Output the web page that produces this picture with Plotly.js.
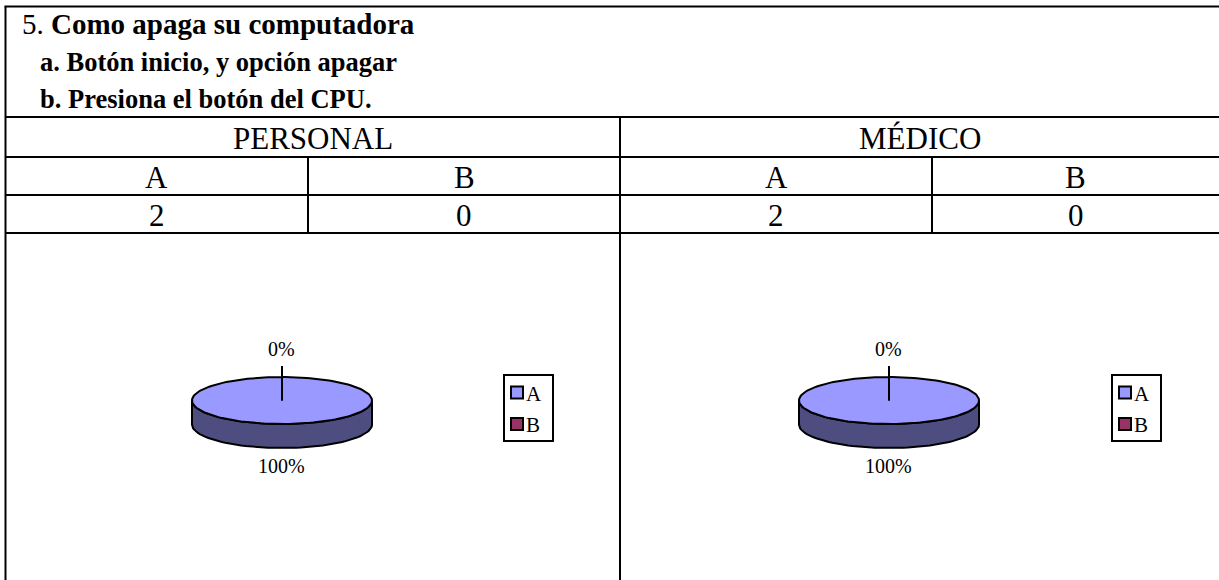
<!DOCTYPE html>
<html>
<head>
<meta charset="utf-8">
<script src="https://cdn.plot.ly/plotly-3.0.1.min.js"></script>
<style>
  body { margin: 0; background: #fff; }
  #plot { width: 1219px; height: 580px; }
</style>
</head>
<body>
<div id="plot"></div>
<script>
// question text
let questionNum = '5.';
let questionText = 'Como apaga su computadora';
let answerLines = ['a. Botón inicio, y opción apagar', 'b. Presiona el botón del CPU.'];

// groups and answers
let groups = ['PERSONAL', 'MÉDICO'];
let options = ['A', 'B'];
let personalCounts = [2, 0];
let medicoCounts = [2, 0];
let optionColors = ['#9999FF', '#993366'];
let sideColors = ['#4D4D80', '#4D1A33'];

let serif = 'Liberation Serif';

// table grid (pixel space)
let W = 1219, H = 580;
let gridLeft = 5.5, gridTop = 6.5, midX = 620;
let rowY = [117, 157, 195, 233];
let splitX = [308, 932];

let shapes = [];
function line(x0, y0, x1, y1) {
    shapes.push({type: 'line', xref: 'x', yref: 'y', x0: x0, y0: y0, x1: x1, y1: y1,
        line: {color: '#000', width: 2}});
}
line(gridLeft - 1, gridTop, W, gridTop);
line(gridLeft, gridTop, gridLeft, H);
for (let i = 0; i < rowY.length; i++) {
    line(gridLeft, rowY[i], W, rowY[i]);
}
line(midX, rowY[0], midX, H);
line(splitX[0], rowY[1], splitX[0], rowY[3]);
line(splitX[1], rowY[1], splitX[1], rowY[3]);

let annotations = [];
function txt(text, x, y, size, anchor, weight) {
    annotations.push({text: text, x: x, y: y, xref: 'x', yref: 'y', showarrow: false,
        xanchor: anchor || 'center', yanchor: 'middle',
        font: {family: serif, size: size, color: '#000', weight: weight || 'normal'}});
}

// title block
txt(questionNum + ' <b>' + questionText + '</b>', 20, 24, 29, 'left');
txt(answerLines[0], 38, 62, 26.5, 'left', 'bold');
txt(answerLines[1], 38, 99, 26.5, 'left', 'bold');

// header cells
let groupCells = [[gridLeft, midX], [midX, W]];
let allCounts = [personalCounts, medicoCounts];
for (let g = 0; g < groups.length; g++) {
    let gx0 = groupCells[g][0], gx1 = groupCells[g][1];
    txt(groups[g], (gx0 + gx1) / 2, (rowY[0] + rowY[1]) / 2 + 1, 31);
    let edges = [gx0, splitX[g], gx1];
    for (let k = 0; k < options.length; k++) {
        let cx = (edges[k] + edges[k + 1]) / 2;
        txt(options[k], cx, (rowY[1] + rowY[2]) / 2 + 1, 31);
        txt(String(allCounts[g][k]), cx, (rowY[2] + rowY[3]) / 2 + 1, 31);
    }
}

// 3D-looking pies built from the counts
let traces = [];
let pieCenters = [282, 889];
let pieCY = 400.5, rx = 90, ry = 23.5, depth = 24;

function rim(cx, th, dy) {
    return [cx + rx * Math.sin(th), pieCY - ry * Math.cos(th) + (dy || 0)];
}

function drawPie(cx, counts) {
    let total = counts.reduce((a, b) => a + b, 0);
    let start = 0;
    let slices = [];
    for (let k = 0; k < counts.length; k++) {
        let frac = counts[k] / total;
        slices.push({k: k, a0: start, a1: start + frac * 2 * Math.PI, frac: frac});
        start += frac * 2 * Math.PI;
    }
    // side walls first (front half only)
    slices.forEach(s => {
        let a0 = Math.max(s.a0, Math.PI / 2), a1 = Math.min(s.a1, 3 * Math.PI / 2);
        if (a1 <= a0) return;
        let xs = [], ys = [];
        let n = 60;
        for (let i = 0; i <= n; i++) {
            let p = rim(cx, a0 + (a1 - a0) * i / n);
            xs.push(p[0]); ys.push(p[1]);
        }
        for (let i = n; i >= 0; i--) {
            let p = rim(cx, a0 + (a1 - a0) * i / n, depth);
            xs.push(p[0]); ys.push(p[1]);
        }
        xs.push(xs[0]); ys.push(ys[0]);
        traces.push({x: xs, y: ys, mode: 'lines', fill: 'toself', fillcolor: sideColors[s.k],
            line: {color: '#000', width: 2}, hoverinfo: 'skip', showlegend: false});
    });
    // top faces
    slices.forEach(s => {
        if (s.frac <= 0) return;
        let xs = [cx], ys = [pieCY];
        let n = 160;
        for (let i = 0; i <= n; i++) {
            let p = rim(cx, s.a0 + (s.a1 - s.a0) * i / n);
            xs.push(p[0]); ys.push(p[1]);
        }
        xs.push(cx); ys.push(pieCY);
        traces.push({x: xs, y: ys, mode: 'lines', fill: 'toself', fillcolor: optionColors[s.k],
            line: {color: '#000', width: 2}, hoverinfo: 'skip', showlegend: false});
    });
    // labels: zero slices go on top with a leader, others below
    slices.forEach(s => {
        let pct = Math.round(s.frac * 100) + '%';
        if (s.frac === 0) {
            let p = rim(cx, s.a0);
            traces.push({x: [p[0], p[0]], y: [366, pieCY], mode: 'lines',
                line: {color: '#000', width: 2}, hoverinfo: 'skip', showlegend: false});
            txt(pct, p[0] - 1, 348.5, 20);
        } else {
            txt(pct, cx - 1, 466, 20);
        }
    });
}

for (let g = 0; g < groups.length; g++) {
    drawPie(pieCenters[g], allCounts[g]);
}

// legends drawn as boxes
let legendX = [504, 1112];
for (let g = 0; g < groups.length; g++) {
    let lx = legendX[g];
    shapes.push({type: 'rect', xref: 'x', yref: 'y', x0: lx, y0: 375, x1: lx + 49, y1: 441,
        line: {color: '#000', width: 2}, fillcolor: '#fff'});
    for (let k = 0; k < options.length; k++) {
        let yy = 392.5 + k * 31.5;
        shapes.push({type: 'rect', xref: 'x', yref: 'y', x0: lx + 7, y0: yy - 6, x1: lx + 19, y1: yy + 6,
            line: {color: '#000', width: 2}, fillcolor: optionColors[k]});
        txt(options[k], lx + 20, yy + 1, 21, 'left');
    }
}

let layout = {
    width: W, height: H,
    margin: {l: 0, r: 0, t: 0, b: 0},
    paper_bgcolor: '#fff', plot_bgcolor: '#fff',
    xaxis: {range: [0, W], visible: false, fixedrange: true},
    yaxis: {range: [H, 0], visible: false, fixedrange: true},
    shapes: shapes,
    annotations: annotations,
    showlegend: false
};

Plotly.newPlot('plot', traces, layout, {staticPlot: true});
</script>
</body>
</html>
